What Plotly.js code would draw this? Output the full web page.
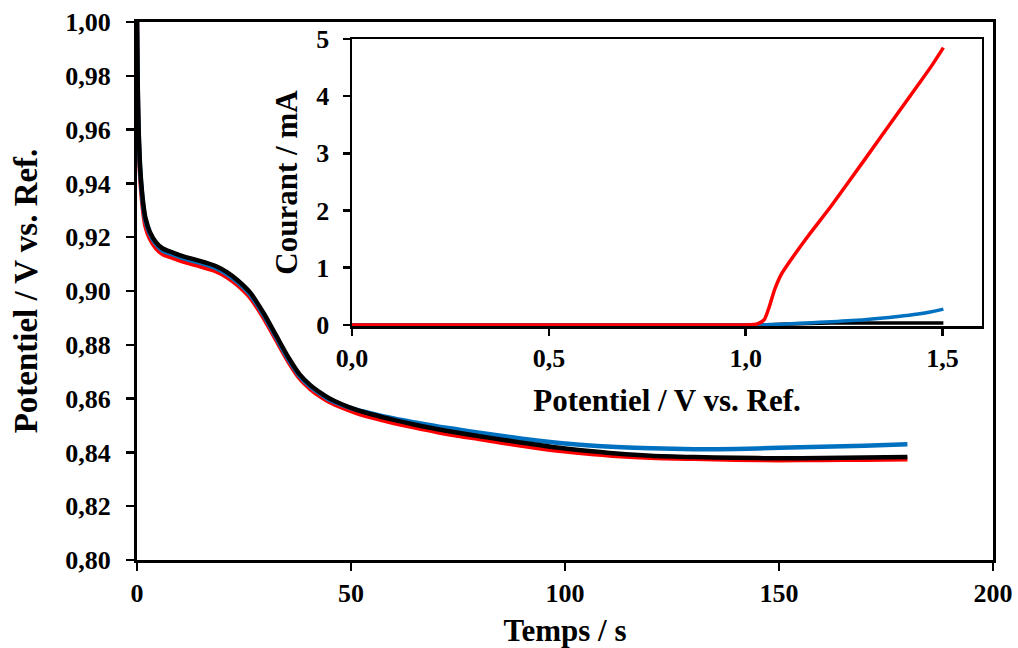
<!DOCTYPE html>
<html>
<head>
<meta charset="utf-8">
<script src="https://cdn.plot.ly/plotly-3.0.1.min.js"></script>
<style>html,body{margin:0;padding:0;background:#fff}#chart{width:1018px;height:648px}</style>
</head>
<body>
<div id="chart"></div>
<script>
// Main plot: potential vs time
const timeS = [0, 0.3, 0.7, 1, 1.5, 2, 3, 4.5, 6, 8.5, 11, 14, 18.5, 21, 23.5, 26.5, 29.5, 32.5, 35.5, 38, 40.5, 43, 45, 48, 51, 55, 60, 65, 70, 75, 80, 85, 90, 97, 105, 112, 120, 130, 140, 150, 160, 170, 180];
const potBlack = [1.0, 0.965, 0.947, 0.940, 0.932, 0.927, 0.922, 0.918, 0.9158, 0.9142, 0.9128, 0.9115, 0.9092, 0.9070, 0.9040, 0.8993, 0.8920, 0.8835, 0.8750, 0.8690, 0.8650, 0.8620, 0.8600, 0.8578, 0.8560, 0.8541, 0.8521, 0.8503, 0.8487, 0.8473, 0.8460, 0.8448, 0.8436, 0.8420, 0.8406, 0.8396, 0.8388, 0.8383, 0.8380, 0.8378, 0.8379, 0.8381, 0.8383];
const potBlue = [1.0, 0.964, 0.946, 0.939, 0.931, 0.926, 0.9213, 0.9173, 0.9150, 0.9135, 0.9121, 0.9108, 0.9085, 0.9063, 0.9033, 0.8986, 0.8913, 0.8828, 0.8743, 0.8684, 0.8645, 0.8616, 0.8596, 0.8576, 0.8560, 0.8544, 0.8526, 0.8511, 0.8497, 0.8485, 0.8473, 0.8462, 0.8451, 0.8438, 0.8427, 0.8420, 0.8415, 0.8412, 0.8413, 0.8417, 0.8421, 0.8425, 0.8430];
const potRed = [1.0, 0.962, 0.944, 0.937, 0.929, 0.924, 0.9195, 0.9158, 0.9137, 0.9122, 0.9108, 0.9095, 0.9073, 0.9052, 0.9022, 0.8975, 0.8902, 0.8818, 0.8734, 0.8675, 0.8636, 0.8606, 0.8587, 0.8566, 0.8548, 0.8529, 0.8509, 0.8492, 0.8476, 0.8462, 0.8450, 0.8437, 0.8425, 0.8409, 0.8396, 0.8387, 0.8380, 0.8376, 0.8373, 0.8371, 0.8372, 0.8373, 0.8375];

// Inset: current vs potential
const potInset = [0, 0.5, 1.0, 1.02, 1.031, 1.047, 1.06, 1.073, 1.09, 1.115, 1.158, 1.217, 1.302, 1.387, 1.438, 1.472, 1.502];
const curRed = [0, 0, 0, 0.005, 0.02, 0.09, 0.32, 0.61, 0.88, 1.14, 1.55, 2.08, 2.89, 3.71, 4.20, 4.53, 4.85];
const curBlue = [0, 0, 0, 0, 0, 0.002, 0.005, 0.008, 0.012, 0.02, 0.035, 0.055, 0.09, 0.146, 0.19, 0.23, 0.275];
const curBlack = [0, 0, 0, 0, 0, 0, 0.002, 0.005, 0.01, 0.016, 0.025, 0.032, 0.035, 0.034, 0.033, 0.032, 0.032];

const xTicksMain = [0, 50, 100, 150, 200];
const yTicksMain = [0.80, 0.82, 0.84, 0.86, 0.88, 0.90, 0.92, 0.94, 0.96, 0.98, 1.00];
const xTicksInset = [0, 0.5, 1.0, 1.5];
const yTicksInset = [0, 1, 2, 3, 4, 5];

const RED = '#FF0000', BLUE = '#0070C0', BLACK = '#000000';
const FONT = 'Liberation Serif, Times New Roman, serif';

const mainLine = (c) => ({color: c, width: 4.5, shape: 'spline', smoothing: 0.8});
const insetLine = (c) => ({color: c, width: 3.5, shape: 'spline', smoothing: 0.6});

const traces = [
  {x: timeS, y: potRed, xaxis: 'x', yaxis: 'y', mode: 'lines', line: mainLine(RED), hoverinfo: 'skip'},
  {x: timeS, y: potBlue, xaxis: 'x', yaxis: 'y', mode: 'lines', line: mainLine(BLUE), hoverinfo: 'skip'},
  {x: timeS, y: potBlack, xaxis: 'x', yaxis: 'y', mode: 'lines', line: mainLine(BLACK), hoverinfo: 'skip'},
  {x: potInset, y: curBlack, xaxis: 'x3', yaxis: 'y3', mode: 'lines', line: insetLine(BLACK), hoverinfo: 'skip'},
  {x: potInset, y: curBlue, xaxis: 'x3', yaxis: 'y3', mode: 'lines', line: insetLine(BLUE), hoverinfo: 'skip'},
  {x: potInset, y: curRed, xaxis: 'x3', yaxis: 'y3', mode: 'lines', line: insetLine(RED), hoverinfo: 'skip'}
];

const baseAx = {showgrid: false, zeroline: false, color: BLACK, tickcolor: BLACK, linecolor: BLACK};
const tickF = (s) => ({size: s, family: FONT, weight: 'bold', color: BLACK});

const layout = {
  width: 1018, height: 648,
  margin: {l: 137, r: 25, t: 22, b: 88, pad: 0},
  paper_bgcolor: '#fff', plot_bgcolor: 'rgba(0,0,0,0)',
  showlegend: false,
  separators: ', ',
  font: {family: FONT, color: BLACK, weight: 'bold'},
  xaxis: Object.assign({}, baseAx, {
    domain: [0, 1], anchor: 'y', range: [0, 200], tickmode: 'array', tickvals: xTicksMain,
    ticks: 'outside', ticklen: 8, tickwidth: 2.5, showline: true, linewidth: 3, mirror: true,
    tickfont: tickF(26), ticklabelstandoff: 0,
    title: {text: 'Temps / s', font: tickF(31), standoff: 24}
  }),
  yaxis: Object.assign({}, baseAx, {
    domain: [0, 1], anchor: 'x', range: [0.8, 1.0], tickmode: 'array', tickvals: yTicksMain, tickformat: '.2f',
    ticks: 'outside', ticklen: 8, tickwidth: 2.5, showline: true, linewidth: 3, mirror: true,
    tickfont: tickF(26), ticklabelstandoff: 10,
    title: {text: 'Potentiel / V vs. Ref.', font: tickF(33), standoff: 18}
  }),
  xaxis2: Object.assign({}, baseAx, {
    overlaying: 'x', anchor: 'y', range: [0, 200], tickmode: 'array', tickvals: xTicksMain,
    ticks: 'inside', ticklen: 8, tickwidth: 2.5, showticklabels: false, showline: false
  }),
  yaxis2: Object.assign({}, baseAx, {
    overlaying: 'y', anchor: 'x', range: [0.8, 1.0], tickmode: 'array', tickvals: yTicksMain,
    ticks: 'inside', ticklen: 8, tickwidth: 2.5, showticklabels: false, showline: false
  }),
  xaxis3: Object.assign({}, baseAx, {
    domain: [0.2512, 0.9871], anchor: 'y3', range: [0, 1.6], tickmode: 'array', tickvals: xTicksInset, tickformat: '.1f',
    ticks: 'outside', ticklen: 7, tickwidth: 2.5, showline: true, linewidth: 2.5, mirror: true,
    tickfont: tickF(26), ticklabelstandoff: 0,
    title: {text: 'Potentiel / V vs. Ref.', font: tickF(31), standoff: 18}
  }),
  yaxis3: Object.assign({}, baseAx, {
    domain: [0.4349, 0.9684], anchor: 'x3', range: [-0.02, 5], tickmode: 'array', tickvals: yTicksInset,
    ticks: 'outside', ticklen: 7, tickwidth: 2.5, showline: true, linewidth: 2.5, mirror: true,
    tickfont: tickF(26), ticklabelstandoff: 8,
    title: {text: 'Courant / mA', font: tickF(31), standoff: 10}
  }),
  xaxis4: Object.assign({}, baseAx, {
    overlaying: 'x3', anchor: 'y3', range: [0, 1.6], tickmode: 'array', tickvals: xTicksInset,
    ticks: 'inside', ticklen: 7, tickwidth: 2.5, showticklabels: false, showline: false
  }),
  yaxis4: Object.assign({}, baseAx, {
    overlaying: 'y3', anchor: 'x3', range: [-0.02, 5], tickmode: 'array', tickvals: yTicksInset,
    ticks: 'inside', ticklen: 7, tickwidth: 2.5, showticklabels: false, showline: false
  })
};

Plotly.newPlot('chart', traces, layout, {staticPlot: true, displayModeBar: false});
</script>
</body>
</html>
